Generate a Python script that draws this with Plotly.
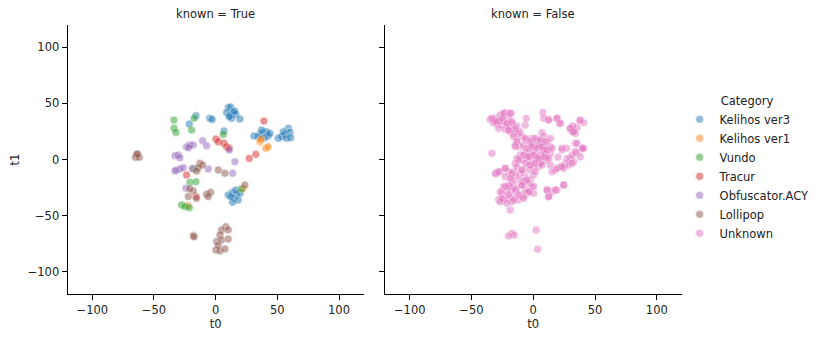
import plotly.graph_objects as go

# known = True panel, one pair of arrays per category
kelihos3_t0 = [-4.7, -2.8, 10.2, 12.0, 8.9, 11.6, 14.3, 16.4, 12.9, 11.0, 19.7, 15.3, -16.0, -21.4, 6.7,
               35.9, 38.6, 41.3, 42.6, 34.5, 40.0, 37.2, 44.0, 50.7, 53.4, 56.2, 58.9, 60.2, 57.5, 60.7, 54.8, 31.0,
               10.2, 13.7, 17.0, 14.8, 18.3, 13.7, 19.7, 16.4, 12.1]
kelihos3_t1 = [36.7, 35.8, 46.2, 46.8, 42.0, 39.7, 42.0, 40.3, 36.7, 38.2, 36.1, 43.2, 39.0, 31.6, 25.4,
               22.4, 24.2, 24.8, 21.2, 20.4, 19.5, 26.3, 23.3, 18.9, 20.4, 22.4, 27.8, 24.2, 18.9, 19.5, 24.8, 21.0,
               -31.6, -29.3, -31.0, -34.6, -36.1, -38.2, -30.2, -27.2, -33.1]

kelihos1_t0 = [35.9, 36.7, 40.7, 42.6, 22.4, -22.5]
kelihos1_t1 = [15.9, 18.0, 10.0, 11.4, -25.7, -41.0]

vundo_t0 = [-33.8, -33.8, -32.2, -17.4, -19.5, 6.2, -20.9, -16.0, -17.6, -27.6, -24.9, -21.4, 21.0]
vundo_t1 = [35.2, 27.8, 24.2, 36.7, 26.3, 22.4, -20.4, -19.8, -8.5, -40.6, -42.0, -43.0, -26.3]

tracur_t0 = [39.1, 0.2, 2.1, 6.7, 8.9, 11.0, 27.2, 32.6, -23.6, -16.0]
tracur_t1 = [34.3, 18.3, 15.9, 14.4, 11.4, 10.0, 1.0, 4.6, -13.8, -33.1]

obfus_t0 = [-10.6, -7.4, 11.0, 15.6, -23.6, -20.9, -18.2, -22.0, -33.0, -30.3, -29.0, -31.7, -29.0, -26.3,
            -6.0, -33.0, -24.1, 13.7, -19.0]
obfus_t1 = [16.8, 12.3, 8.5, -2.0, 11.4, 12.9, 12.9, 10.5, 3.4, 4.0, 1.6, -9.4, -8.5, -7.3,
            -8.5, -10.2, -25.7, -12.3, -8.0]

lolli_t0 = [-64.0, -65.0, -62.0, -63.5, -12.8, -10.6, -14.1, -15.5, 2.1, 7.5, -18.2, -22.2, -15.5, -7.4, -4.1,
            -6.0, -18.2, -17.5, 8.3, 4.8, 10.2, 3.5, 0.8, 4.8, 10.2, 0.2, 3.5, 7.5, 2.1, 23.7, -21.0]
lolli_t1 = [4.5, 2.0, 2.0, 5.0, -3.4, -4.9, -7.3, -10.3, -9.4, -12.3, -28.1, -33.1, -34.6, -31.0, -29.3,
            -33.1, -67.9, -69.0, -59.9, -62.8, -62.8, -67.3, -73.2, -71.8, -70.9, -80.7, -81.6, -79.8, -76.8, -22.7, -26.0]

# known = False panel
unknown_t0 = [-34.9, -30.8, -26.8, -22.7, -18.1, -20.0, -24.1, -29.5, -32.2, -25.4, -21.4, -17.3, -13.3, -14.6,
              -10.6, -16.0, -9.2, -13.3, -14.6, -11.1, -6.5, -5.7, -28.1, -22.7, -18.7, -27.0, -31.5, -19.5,
              7.8, 12.4, 19.2, 21.3, 7.0, 8.4,
              30.0, 32.7, 35.4, 37.5, 40.8, 31.3, 34.0, 32.0,
              34.0, 40.8, 35.4, 30.0, 25.9, 23.2, 21.9, 17.8, 24.6, 28.6, 15.1, 32.7, 38.1, 27.0, 20.0,
              -5.2, -1.1, 2.9, 7.0, 11.1, 13.8, 9.7, 5.6, 1.6, -2.5, -6.5, -2.5, 1.6, 5.6, 9.7, 13.8,
              -5.2, -1.1, 2.9, 7.0, 11.1, -3.8, 0.2, 4.3, -7.9, -2.5, -9.2, -10.6, -13.3, -14.6, -6.5,
              -10.6, -16.0, -20.0, -22.7, -26.8, -30.8, -17.3, -2.5, 0.2, 11.1, 12.4, 15.1, 24.6, 19.2,
              1.6, 13.8, 4.0, -1.0, 8.0, 3.0, -4.0, 10.0, 6.0, -8.0,
              -24.1, -20.0, -16.0, -10.6, -7.9, -3.8, -1.1, -13.3, -17.3, -21.4, -25.4, -28.1, -24.1,
              -20.0, -16.0, -10.6, -5.2, 0.2, -7.9, -11.9, -17.3, -26.8, -6.5, -2.5, -9.2, -14.0, -19.0,
              -33.5, -18.7, -17.3, -15.2, -20.0, 2.4, 3.5, -30.0, -22.7,
              -33.5, -29.4, -25.4, -21.3, -17.3, -18.6, -24.0, -14.6, -20.0, -11.9, -15.9, -13.2, -14.6,
              -6.5, -2.4, 1.6, 5.7, 9.8, 13.8, -5.1, -1.1, 3.0, 7.1, 11.1, 15.2, -7.8, -3.8, 0.3, 4.3,
              8.4, 12.5, -6.5, -2.4, 1.6, 7.1, -11.9, -13.2, -9.2,
              23.3, 27.3, 31.4, 34.1, 35.4, 39.5, 19.2, 23.3, 31.4, 8.4, 12.5, 19.2, 22.0, 30.0, 32.7, 38.1, 40.3,
              -28.1, -22.7, -17.3, -18.6, -22.7, -26.7, -25.4, -20.0, -14.6, -9.2, -5.1, -11.9, -3.8, 0.3,
              -15.9, -21.3, -7.8, 11.1, 12.5, 17.9, 24.6]
unknown_t1 = [35.8, 36.7, 39.6, 41.7, 41.1, 36.7, 35.2, 31.6, 32.8, 30.7, 31.6, 32.2, 29.8, 25.7,
              24.8, 23.3, 20.3, 17.3, 12.9, 11.4, 30.7, 36.7, 27.7, 26.8, 24.8, 34.0, 34.5, 29.0,
              42.0, 35.8, 36.7, 32.2, 23.9, 20.9,
              27.7, 26.3, 28.6, 34.6, 32.8, 24.8, 23.3, 30.0,
              14.4, 9.9, 6.0, 1.0, -3.5, 8.4, -6.4, -9.4, -7.9, -5.0, -10.9, -2.0, 2.5, 10.0, 2.0,
              17.3, 18.8, 17.3, 15.9, 15.9, 11.4, 9.9, 11.4, 11.4, 9.9, 6.9, 5.5, 5.5, 4.0, 5.5, 5.5,
              1.0, -0.5, -0.5, -2.0, -0.5, -5.0, -6.4, -6.4, -9.4, -9.4, -0.5, 4.0, 1.0, -3.5, -15.4,
              -12.4, -10.9, -10.9, -8.0, -10.9, -12.4, -18.3, -18.3, -13.9, -27.2, -33.2, -28.7, -22.8, -27.2,
              -10.9, -5.0, 13.0, 14.0, 8.0, 2.0, 3.0, 2.0, -3.0, 13.0,
              -24.3, -22.8, -21.3, -18.3, -19.8, -21.3, -23.7, -25.8, -27.2, -28.7, -30.2, -35.6, -36.2,
              -34.7, -33.2, -31.7, -30.2, -30.2, -33.2, -36.2, -37.6, -37.6, -27.2, -28.7, -22.8, -15.0, -24.0,
              5.5, -45.1, -65.9, -67.4, -68.2, -62.9, -80.1, -12.4, -15.4,
              36.7, 33.7, 36.7, 32.3, 33.7, 41.2, 41.2, 27.8, 26.3, 23.3, 20.4, 15.9, 11.5,
              18.9, 15.9, 18.9, 17.4, 15.9, 18.9, 10.0, 11.5, 10.0, 11.5, 8.5, 10.0, 4.0, 2.5, 4.0, 1.0,
              2.5, 1.0, -3.4, -4.9, -3.4, -4.9, -0.4, -6.4, -9.4,
              10.0, 1.0, 4.0, 7.0, 14.4, 10.0, -7.9, -6.4, -3.4, 36.7, 35.2, 36.7, 32.3, 27.8, 24.8, 35.2, 10.0,
              -10.8, -7.9, -12.3, -16.8, -24.2, -28.7, -34.6, -31.6, -27.2, -22.7, -18.3, -31.6, -28.7, -24.2,
              -36.1, -39.1, -34.6, -27.2, -33.1, -27.2, -22.7]

categories = ["Kelihos ver3", "Kelihos ver1", "Vundo", "Tracur", "Obfuscator.ACY", "Lollipop"]
colors = ["#1f77b4", "#ff7f0e", "#2ca02c", "#d62728", "#9467bd", "#8c564b", "#e377c2"]

known_data = [(kelihos3_t0, kelihos3_t1), (kelihos1_t0, kelihos1_t1), (vundo_t0, vundo_t1),
              (tracur_t0, tracur_t1), (obfus_t0, obfus_t1), (lolli_t0, lolli_t1)]

FONT = "DejaVu Sans"
fig = go.Figure()

for name, (xs, ys), c in zip(categories, known_data, colors):
    fig.add_trace(go.Scatter(x=xs, y=ys, mode="markers", name=name,
                             marker=dict(color=c, size=8, opacity=0.5, line=dict(color="white", width=0.6)),
                             xaxis="x", yaxis="y"))

fig.add_trace(go.Scatter(x=unknown_t0, y=unknown_t1, mode="markers", name="Unknown",
                         marker=dict(color=colors[6], size=8, opacity=0.5, line=dict(color="white", width=0.6)),
                         xaxis="x2", yaxis="y2"))

axis_style = dict(range=[-120, 120], showgrid=False, zeroline=False, showline=True, linecolor="black",
                  linewidth=1.2, ticks="outside", ticklen=5, tickwidth=1.2, tickcolor="black",
                  automargin=False,
                  tickvals=[-100, -50, 0, 50, 100], tickfont=dict(size=11.5, color="#222"))

# the page body adds an 8px offset, so domains are shifted up/left by 8px
fig.update_layout(
    width=831, height=340,
    margin=dict(l=0, r=0, t=0, b=0),
    plot_bgcolor="white", paper_bgcolor="white",
    font=dict(family=FONT, size=11.5, color="#222"),
    xaxis=dict(domain=[0.0718, 0.4280], anchor="y",
               title=dict(text="t0", standoff=4, font=dict(size=11.5)), **axis_style),
    xaxis2=dict(domain=[0.4537, 0.8105], anchor="y2",
                title=dict(text="t0", standoff=4, font=dict(size=11.5)), **axis_style),
    yaxis=dict(domain=[0.1588, 0.95], anchor="x",
               title=dict(text="t1", standoff=6, font=dict(size=11.5)), **axis_style),
    yaxis2=dict(domain=[0.1588, 0.95], anchor="x2", showticklabels=False, **axis_style),
    legend=dict(x=0.8082, y=0.527, xanchor="left", yanchor="middle",
                title=dict(text="Category", side="top center", font=dict(size=11.5)),
                font=dict(size=11.5), bgcolor="rgba(0,0,0,0)"),
    annotations=[
        dict(text="known = True", x=0.25, y=0.982, xref="paper", yref="paper",
             showarrow=False, xanchor="center", yanchor="middle", font=dict(size=11.5)),
        dict(text="known = False", x=0.6318, y=0.982, xref="paper", yref="paper",
             showarrow=False, xanchor="center", yanchor="middle", font=dict(size=11.5)),
    ],
)

fig.write_html("out.html")
